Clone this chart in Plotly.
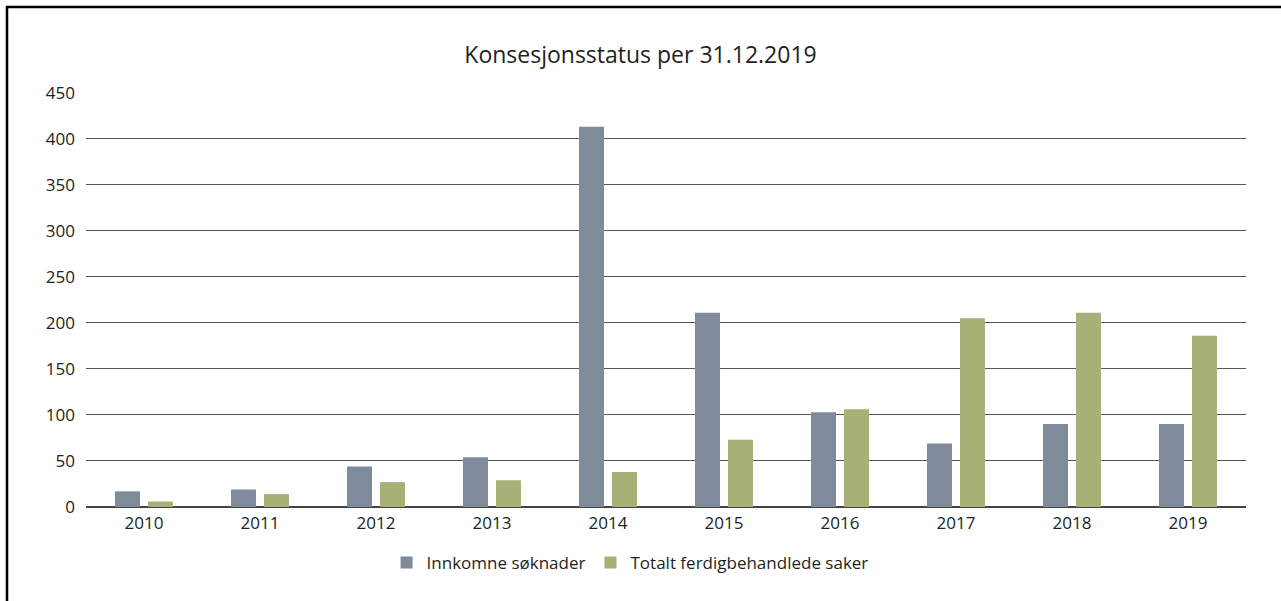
import plotly.graph_objects as go

years = ["2010", "2011", "2012", "2013", "2014", "2015", "2016", "2017", "2018", "2019"]
innkomne = [17, 19, 44, 54, 413, 211, 103, 69, 90, 90]
ferdig = [6, 14, 27, 29, 38, 73, 106, 205, 211, 186]
y_ticks = [0, 50, 100, 150, 200, 250, 300, 350, 400, 450]

W, H = 1281, 601
L, R, T = 86, 35, 92
pw = W - L - R
ph = 415
B = H - T - ph

fig = go.Figure()
fig.add_trace(go.Bar(x=years, y=innkomne, name="Innkomne søknader",
                     marker=dict(color="#7F8B9B", line=dict(width=0))))
fig.add_trace(go.Bar(x=years, y=ferdig, name="Totalt ferdigbehandlede saker",
                     marker=dict(color="#A7B077", line=dict(width=0))))

font_family = "Open Sans, Noto Sans, sans-serif"

fig.update_layout(
    width=W, height=H,
    margin=dict(l=L, r=R, t=T, b=B),
    paper_bgcolor="white", plot_bgcolor="white",
    barmode="group", bargap=0.431, bargroupgap=0.242,
    font=dict(family=font_family, size=17, color="#231F20"),
    title=dict(text="Konsesjonsstatus per 31.12.2019", x=0.5, xanchor="center",
               y=1 - 55 / H, yanchor="middle",
               font=dict(size=23, family=font_family, color="#231F20")),
    xaxis=dict(type="category", showgrid=False, ticks="", showline=False,
               tickfont=dict(size=17), zeroline=False, ticklabelstandoff=4),
    yaxis=dict(range=[0, 450.6], tickvals=y_ticks, showgrid=True, gridcolor="#555555",
               gridwidth=1, zeroline=True, zerolinecolor="#444444", zerolinewidth=1.5,
               showline=False, ticks="", ticklabelstandoff=10,
               tickfont=dict(size=17), fixedrange=True),
    legend=dict(orientation="h", x=0.469, xanchor="center", y=-(563 - 507) / ph,
                yanchor="middle", font=dict(size=17), itemwidth=30,
                traceorder="normal"),
    showlegend=True,
)

# outer frame (cropped at right and bottom in the reference)
fig.add_shape(type="rect", xref="paper", yref="paper",
              x0=(7 - L) / pw, x1=1 + (R + 20) / pw,
              y0=-(B + 20) / ph, y1=1 + (T - 7) / ph,
              line=dict(color="black", width=2.5), fillcolor="rgba(0,0,0,0)", layer="above")

fig.write_html("out.html", config={"displayModeBar": False},
               post_script="document.body.style.margin='0';document.body.style.overflow='hidden';")
